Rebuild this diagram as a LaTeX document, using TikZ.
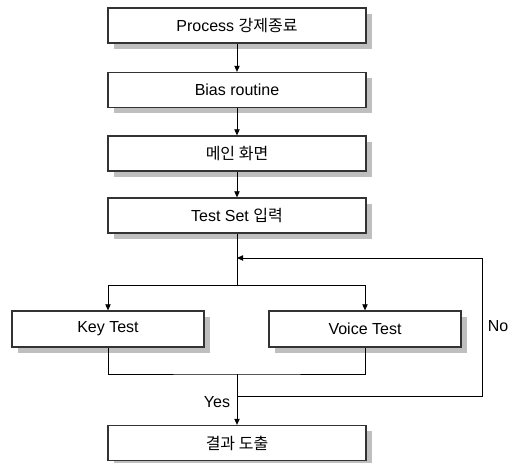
\documentclass[tikz,border=0pt]{standalone}
\usepackage{fontspec}
\setmainfont{Liberation Sans}
\newfontfamily\kr{Noto Sans CJK KR}
\usetikzlibrary{positioning,arrows.meta,shadows}
\tikzset{
  flowbox/.style={draw=black!80, line width=1pt, fill=white,
    font=\fontsize{12}{14}\selectfont, inner sep=0pt,
    minimum width=258*0.75pt, minimum height=35*0.75pt,
    drop shadow={shadow xshift=4.5pt, shadow yshift=-4.5pt,
      fill=black!25, opacity=1}},
  testbox/.style={flowbox, minimum width=192*0.75pt, minimum height=36*0.75pt},
  flowarr/.style={-{Triangle[length=4.5pt,width=4pt]}, line width=0.6pt},
  flowline/.style={line width=0.6pt},
  flowlbl/.style={font=\fontsize{12}{14}\selectfont, inner sep=1pt},
}
\begin{document}
\begin{tikzpicture}[x=0.75pt, y=-0.75pt]
  \useasboundingbox (0,0) rectangle (508,463);
  % ---- main chain ----
  \node[flowbox] at (237, 25.5) (proc) {Process {\kr 강제종료}};
  \node[flowbox] at (237, 90)   (bias) {Bias routine};
  \node[flowbox] at (237,153.5) (mainscr) {\kr 메인 화면};
  \node[flowbox] at (237,215.5) (tset) {Test Set {\kr 입력}};

  % ---- tests ----
  \node[testbox] at (108,329)   (key)   {Key Test};
  \node[testbox] at (365,329)   (voice) {Voice Test};

  % ---- result ----
  \node[flowbox] at (237,443)   (res)  {\kr 결과 도출};

  % junction points
  \coordinate (join)  at (237,258);
  \coordinate (split) at (237,285);
  \coordinate (merge) at (237,374);
  \coordinate (back)  at (237,396);
  \coordinate (ur)    at (482,258);

  % ---- Edges ----
  \draw[flowarr] (proc)    -- (bias);
  \draw[flowarr] (bias)    -- (mainscr);
  \draw[flowarr] (mainscr) -- (tset);
  \draw[flowline] (tset)   -- (split);
  \draw[flowarr] (split)   -| (key.north);
  \draw[flowarr] (split)   -| (voice.north);
  \draw[flowline] (key.south) |- (merge) -| (voice.south);
  \draw[flowarr] (merge)   -- (res);
  % loop back (No)
  \draw[flowarr] (back) -| (ur) -- (join);

  % ---- labels ----
  \node[flowlbl] at (217,402) (yes) {Yes};
  \node[flowlbl] at (498,326) (no)  {No};
\end{tikzpicture}
\end{document}
